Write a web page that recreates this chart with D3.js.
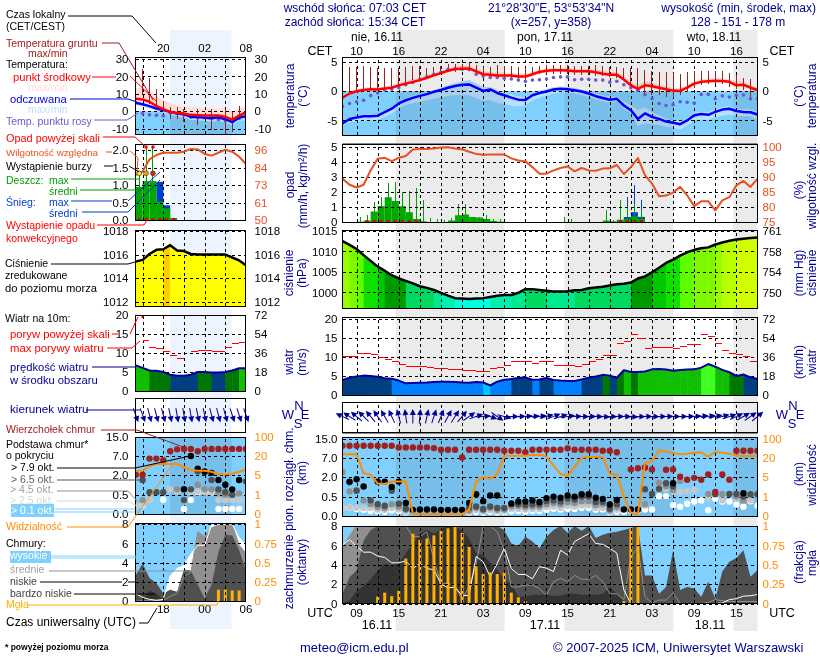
<!DOCTYPE html>
<html>
<head>
<meta charset="utf-8">
<script src="https://d3js.org/d3.v7.min.js"></script>
<style>
  html, body { margin: 0; background: #fff; }
  svg { display: block; }
  text { font-family: "Liberation Sans", Arial, sans-serif; }
</style>
</head>
<body>
<svg id="chart" width="820" height="660"></svg>
<script>
// --- main meteogram, one value per hour from 16.11 07 UTC (h=0) to 18.11 18 UTC (h=59)
const utcTicks = [2, 8, 14, 20, 26, 32, 38, 44, 50, 56];
const utcLabels = ['09', '15', '21', '03', '09', '15', '21', '03', '09', '15'];
const cetLabels = ['10', '16', '22', '04', '10', '16', '22', '04', '10', '16'];
const nightSpans = [[7.57, 23.05], [31.57, 47.05], [55.57, 59]];

const tempMid = [-1.1,-.4,0,.2,.35,.3,.45,.6,1,1.3,1.6,1.9,2.3,2.7,3.1,3.5,3.8,3.85,3.9,3.4,2.9,2.8,2.7,2.7,2.7,2.5,2.5,2.9,3.3,3.5,
  3.6,3.6,3.55,3.4,3.4,3.4,3.25,3,2.8,2.8,2,1,.4,1,.85,.6,.35,.1,.05,.6,1.3,1.6,1.7,1.8,1.75,1.6,1,1.1,.6,.2];
const tempMax = [-.8,-.1,.4,.6,.7,.7,.8,1,1.4,1.8,2.1,2.4,2.8,3.1,3.5,3.9,4.3,4.4,4.4,3.9,3.4,3.3,3.2,3.2,3.2,3,3,3.3,3.7,3.9,
  4,4,4,3.8,3.8,3.8,3.7,3.5,3.3,3.3,2.6,1.6,1,1.7,1.5,1.1,.8,.6,.5,1,1.7,2,2.2,2.3,2.2,2.1,1.7,1.6,1.1,.6];
const tempMin = [-1.3,-.6,-.2,0,.1,.1,.2,.4,.8,1.1,1.4,1.7,2.1,2.5,2.9,3.3,3.6,3.6,3.7,3.1,2.6,2.5,2.4,2.4,2.4,2.2,2.2,2.6,3,3.3,
  3.4,3.4,3.3,3.2,3.2,3.2,3,2.8,2.6,2.6,1.7,.7,.1,.7,.5,.3,.1,-.1,-.1,.4,1,1.3,1.5,1.6,1.5,1.4,.8,.8,.3,-.1];
const feelMid = [-5.5,-4.75,-4.5,-4.3,-4.3,-4.2,-3.6,-3,-2.1,-1.55,-1.15,-.8,-.5,-.1,.2,.6,.9,1.1,1.15,.6,.05,.3,-.3,-.7,-1.1,-1.45,-1.5,-.7,-.3,-.05,
  .3,.4,.35,.15,-.05,-.4,-.85,-1.15,-1.45,-1.3,-2.45,-3.25,-4.75,-3.8,-4.4,-4.75,-5.2,-5.4,-5.65,-5,-4.1,-3.9,-4.05,-3.55,-3.15,-3,-3.4,-3.55,-3.6,-4];
const feelMax = [-5.2,-4.4,-4.2,-4,-4,-3.9,-3.3,-2.7,-1.8,-1.2,-.8,-.5,-.2,.2,.6,1,1.4,1.7,1.9,1.4,.7,.7,.2,-.2,-.6,-.9,-1,-.3,.1,.4,
  .7,.8,.7,.5,.3,0,-.4,-.7,-1,-.9,-1.7,-2.4,-3.2,-2.8,-3.6,-4.1,-4.7,-5,-5.2,-4.6,-3.7,-3.5,-3.6,-3.1,-2.7,-2.6,-3,-3.1,-3.1,-3.5];
const feelMin = [-5.9,-5.3,-5.2,-5,-5,-4.9,-4.4,-3.8,-2.9,-2.4,-2.1,-1.8,-1.6,-1.3,-1.1,-.8,-.7,-.6,-.7,-1.2,-1.6,-1.5,-2,-2.2,-2.5,-2.6,-2.4,-1.6,-1.1,-.8,
  -.4,-.2,-.2,-.4,-.7,-1,-1.4,-1.7,-1.9,-1.8,-3,-3.8,-6,-5.5,-5.6,-5.8,-6.1,-6.2,-6.6,-5.9,-5,-4.9,-4.9,-4.4,-4.2,-4,-4.2,-4.3,-4.3,-4.9];
const dewPoint = [-2.6,-2.1,-1.8,-1.55,-.75,-.3,.2,.3,.6,1.1,1.5,2,2.45,2.9,3.25,3.75,3.8,3.75,3.7,2.9,2.6,2.35,2.35,2.2,2.1,1.9,1.7,1.9,1.95,2.1,
  2.35,2.45,2.45,1.95,2.05,2.05,1.9,1.9,1.55,1.7,1.1,.6,.15,-.6,-1.25,-2.1,-2.45,-2.3,-1.8,-1.9,-2.05,-.55,-.55,-1.3,-.8,-1,-.7,-.65,-1.3,-1.3];
const soilMax = [null,4.06,4.17,4.29,4.17,3.94,4,4,4,4.17,4.34,4.34,3.89,4.17,4.34,4.74,4.74,4.74,4.86,4.46,4.17,4.17,4.46,4.29,4.29,4.17,3.89,4.17,4.34,4.46,
  4.57,4.57,4.46,4.34,4.34,4.34,4.46,4.34,4.17,4.17,4,3.89,3.89,3.6,3.43,3.31,3.31,3.14,3.03,3.31,3.43,3.54,3.54,3.49,3.49,3.14,2.74,2.34,2.17,1.89];
const soilMin = [null,0,.17,.17,.29,.29,.46,.46,.86,1.31,1.89,1.89,2.46,2.74,3.03,3.31,3.31,3.6,3.43,2.74,2.34,2.34,2.17,2,1.89,1.6,1.89,2.74,2.91,3.03,
  3.03,2.91,2.91,2.74,2.74,2.74,2.57,2.57,2.46,2.34,1.89,1.03,.29,-.4,-.69,-.69,-.97,-.97,-.69,-.11,.63,1.03,1.2,1.31,1.31,.74,.46,.29,-1.26,-1.26];

const humidity = [89.4,87.4,86.5,87.4,92.2,96.1,96.4,95.3,96.4,97,99.2,99.3,99.3,99.5,99.8,99.9,99.5,99.2,98.4,97.7,97.4,97.5,97.5,97.5,96.2,95.5,95.2,93.3,91.1,91.1,
  92.2,93,93.5,91.9,93,92.2,92.1,92.8,92.9,94,91,93.3,96.3,90.6,87.8,83.6,83.8,84.8,86.7,83.9,80.3,81.9,81.9,78.9,82.2,83.3,87.2,88.7,86.7,89.4];
const rainMean = [0,0,.02,.1,.7,1.07,1.65,1.4,1.05,.65,.2,.05,0,0,0,.1,.45,.5,.33,.3,.2,.07,.02,0,0,0,0,0,0,0,
  0,0,0,0,0,0,0,.1,.04,.15,.2,.38,.2,0,0,0,0,0,0,0,0,0,0,0,0,0,0,0,0,0];
const rainMax = [0,0,.31,.49,1.35,1.68,2.58,2.65,2.02,2.09,2.24,1.46,.25,.2,.11,.29,1.23,1.19,.34,.34,.45,.22,.18,0,0,0,0,0,0,0,
  0,.34,.22,0,0,0,0,.83,.16,1.45,1.1,1.23,.8,0,0,0,0,0,0,0,0,0,0,0,0,0,0,0,0,0];
const snowMean = [0,0,0,0,0,0,0,0,0,0,0,0,0,0,0,0,0,0,0,0,0,0,0,0,0,0,0,0,0,0,
  0,0,0,0,0,0,0,0,0,0,.33,.65,.34,0,0,0,0,0,0,0,0,0,0,0,0,0,0,0,0,0];
const snowMax = [0,0,0,0,0,0,0,0,0,0,0,0,0,0,0,0,0,0,0,0,0,0,0,0,0,0,0,0,0,0,
  0,0,0,0,0,0,0,0,0,0,1.7,2.47,1.5,0,0,0,0,0,0,0,0,0,0,0,0,0,0,0,0,0];
const convectiveHours = [3, 4, 5, 6, 7, 8, 9, 10, 39, 40, 41, 42];

const pressure = [1012.55,1011.6,1010.6,1009.1,1007.7,1006.3,1005.3,1004.2,1003.4,1002.8,1002.2,1001.5,1001.1,1000.6,999.9,999.2,998.6,998.5,998.4,998.5,998.6,998.9,999.2,999.35,999.35,999.9,1000.8,1000.8,1000.6,1000.4,
  1000.2,1000.2,1000.3,1000.5,1000.6,1001,1001.2,1001.4,1001.7,1002,1002.1,1002.4,1003.4,1003.9,1004.9,1006,1007.2,1008,1009,1009.8,1010.4,1010.8,1011,1011.7,1012.2,1012.6,1012.9,1013.1,1013.3,1013.4];

const wind = [3.95,4.56,4.9,5.1,5,4.8,4.4,4.3,3.8,3.07,3.16,3.25,3.3,3.4,3.5,3.5,3.4,3.3,3.25,3.4,3.3,2.5,3.5,4,4.2,4.5,4.65,4,4.1,4.5,
  3.95,3.8,3.7,3.7,4.1,4.55,4.9,5.3,5.1,4.55,6.5,6.05,6.05,6.2,6.75,6.85,6.7,6.4,6.6,6.7,6.75,7.2,8.15,7.45,6.6,6,5,5.4,4.65,4.2];
const windClass = [2,2,2,2,2,2,2,1,1,1,1,1,1,1,1,1,1,1,1,1,0,1,1,1,2,2,2,1,2,2,
  1,1,1,1,2,2,2,3,2,3,4,3,4,4,4,4,4,4,4,4,4,5,5,4,4,3,3,2,2,2];
const gust = [10.1,10.1,11,11,10.7,10,9.4,8.7,8.1,7.5,7.5,7.45,7.3,7.1,7,6.8,6.75,6.5,6.5,6.1,6.1,6.9,7.3,7.8,8.9,8.9,8.9,8.4,8.9,8.9,
  7.7,7.7,7.7,7.5,8.1,8.9,9.4,10.4,10.4,13.6,14.1,15.8,14.9,12.3,12.5,12.5,12.5,12.3,12.8,13.4,13.4,15.8,15.4,13.6,11.75,11,10.7,10.1,8.7,null];
const windDir = [-65,-58,-50,-45,-40,-35,-30,-25,-15,-8,0,5,12,18,22,28,32,40,55,70,85,110,125,105,90,88,85,85,82,75,
  68,72,80,88,92,90,92,95,92,90,92,95,92,90,92,90,88,90,90,88,85,82,80,78,75,72,65,60,55,50];

const cloudTop = [12,12,12,12,12,12,12,12,11.3,11.3,11.3,11.3,11.3,11,10.3,10.3,10.3,7.1,10.3,10.3,10.3,10.3,10.3,9.9,9.9,9.9,9.3,10.3,10.3,10.3,
  10.3,10.3,10.9,10.3,10.3,10.3,10.3,9.9,9.9,9.3,null,4,4.3,4.5,4,null,3.9,4,2.1,1.8,1.95,1.8,2.7,.86,2.7,1.8,9.9,9.9,9.9,9.9];
const base79 = [null,1.66,1.84,1.28,null,1.66,1.66,1.25,1.66,.33,.15,.16,.16,.16,.15,.15,.15,.15,.33,.68,.38,.58,.58,null,.32,.37,.37,.4,.36,.46,
  .5,.47,.58,.5,.68,.68,.47,.44,.29,.41,.16,.16,.16,null,null,null,null,1.53,null,null,null,null,null,null,null,null,null,.76,null,null];
const base65 = [null,1.6,.95,null,.4,.3,.26,.95,.31,.18,null,null,null,null,null,null,null,null,.2,.24,.17,.24,.2,.2,.3,.3,.28,.3,.3,.38,
  .4,.37,.45,.42,.5,.5,.36,.36,.18,.3,null,null,null,1.07,.7,1.1,1.53,1.28,null,null,null,null,null,.68,null,.7,.7,.5,.68,.68];
const base45 = [3.3,.9,1,.4,.3,.22,.2,.3,.23,.15,null,null,null,null,null,null,null,null,.13,.2,.14,.2,.15,.16,.24,.25,.22,.24,.24,.3,
  .33,.3,.35,.33,.38,.38,.28,.3,.13,.22,null,null,null,.3,null,1.55,1.3,1,1.7,null,null,null,.7,null,.7,null,.5,.4,null,null];
const base25 = [.2,.22,.2,.2,.2,.16,.15,.2,.16,.1,null,null,null,null,null,null,null,null,.1,.14,.1,.14,.11,.11,.17,.17,.16,.17,.17,.22,
  .24,.2,.25,.24,.27,.27,.2,.2,.1,.15,null,null,null,.26,null,1.45,1.1,.9,.85,.9,1,null,.45,null,.4,null,.45,.4,.4,null];
const base01 = [.2,.21,.17,.15,.12,.11,.1,.13,.11,.08,null,null,null,null,null,null,null,null,.08,.09,.07,.1,.08,.08,.11,.12,.1,.12,.12,.15,
  .18,.16,.18,.17,.2,.2,.15,.16,.08,.1,.1,.13,.13,.16,.16,.53,.54,.28,.23,.31,.37,.4,.14,.44,.37,.37,.29,.23,.38,.26];
const visibility = [34,34,34,8,6.8,3.7,3.6,4.1,4.1,4.1,.12,.07,.07,.07,.07,.07,.07,.07,.3,4.1,5.2,4.7,7.3,28,28,28,28,32,31,25,
  13.9,7.5,6,13,20,23,23,23,7.5,7,1,.14,.07,16,17,52,45,41,34,36.5,41,43,24,45,41,36,30,27,27,27];

const cloudHigh = [6.05,6.6,5.9,5.3,5.3,4.9,4.75,4.2,4.2,4.4,3.6,4.15,3.6,3.5,2,1.6,1.7,.8,.85,4.85,4.3,2.75,4.15,5.7,3.6,3,3,2.55,3.8,3.65,
  3.3,5.5,5,6.4,6.8,7.2,6.2,6.1,5.7,5.2,1.4,0,0,0,0,0,0,0,0,0,0,0,0,0,.05,.4,.5,.76,.8,.93];
const cloudMid = [5.8,7,8,8,8,8,8,8,8,8,6.9,6.9,7.4,4.5,2,2.1,1.8,.4,1.8,4,8,8,7.4,5.5,1.7,1.7,1.9,1.9,1.55,.85,
  2.25,2.6,2.25,2.9,2.5,2.5,2.9,2.25,1,1,.4,4.8,5.8,.7,.05,.35,.35,1.1,0,0,0,0,.1,.4,.3,.2,.2,.2,.2,.2];
const cloudLow = [1,2.7,3.4,6.5,7.6,8,8,8,8,8,8,8,8,8,8,8,8,8,8,8,8,8,8,7.6,6.2,5.95,6.9,6.4,5.7,6.9,
  7.6,8,7.3,8,7.5,8,6.75,7.1,7.3,7.4,7.6,7.8,8,2.9,2.9,1,1.7,5.5,1.4,1.7,1.55,.7,2.25,.5,3.3,4.3,4.7,5.5,2.75,3.45];
const cloudVeryLow = [0,.3,1.3,1.8,2.5,3.4,4.1,3.9,4.2,5.2,6.2,7.2,7.6,7.2,7.7,8,8,7.5,6.7,5.2,5,4.2,3.5,2.4,2.1,.7,.7,.9,.9,.9,
  .8,.8,1,1,.9,.9,.9,1,1.7,1,.2,0,0,0,0,0,0,0,0,0,0,0,0,0,0,0,0,0,0,0];
const fog = [0,0,0,0,0,.09,.14,.095,.165,.58,.9,.82,.84,.88,.94,.97,.99,.91,.73,.48,.38,.4,.38,.4,.14,.08,.03,0,0,0,
  0,0,0,0,0,0,0,0,0,0,.03,.97,1,0,0,0,0,0,0,0,0,0,0,0,0,0,0,0,0,0];

// --- small sample meteogram on the left (the legend), hours 14 UTC .. 06 UTC
const lUtcTicks = [4, 10, 16];
const lUtcLabels = ['18', '00', '06'];
const lCetLabels = ['20', '02', '08'];
const lNight = [4.97, 13.9];
const lTempMid = [7.1,6.7,5.4,2.9,1.2,-.4,-1,-1.3,-2.1,-2.3,-2.5,-2.5,-2.5,-3.3,-4.8,-2.5,-.6];
const lTempMax = [13.6,13,11,9.2,6.3,4.4,3.5,2.5,2.1,2.1,1.5,1.5,1.5,1.5,-.4,1.5,2.9];
const lTempMin = [6.5,6,4.7,2.3,.6,-1,-1.5,-1.8,-2.6,-2.8,-3,-3,-3,-3.8,-5.3,-3,-1.1];
const lFeelMid = [4.8,4,2.9,1.5,.6,-.4,-1.3,-1.7,-3.3,-3.3,-3.7,-4,-3.5,-4.6,-6.3,-3.7,-2.9];
const lFeelMax = [5.5,4.8,3.6,2.2,1.2,.3,-.6,-1,-2.6,-2.6,-3,-3.3,-2.8,-3.9,-5.6,-3,-2.2];
const lFeelMin = [3.6,2.8,1.5,.2,-.8,-1.9,-2.8,-3.5,-5,-5.2,-5.6,-6,-5.5,-6.6,-8,-5.8,-5];
const lDew = [null,-1.3,-2.1,-2.3,-2.7,-1,-1.3,-2.1,-3.3,-3.9,-3.7,-4,-4.8,-5.6,-6,-4.2,null];
const lSoilMax = [null,24,19,13,6,2.5,2.5,1.5,null,1.5,null,1.5,null,1.5,-.4,2.9,null];
const lSoilMin = [null,10,4,2.5,0,-4.2,-4.2,-6.2,null,-8,null,-11,null,-13,-12,-5,null];
const lHumidity = [79.6,81.8,89.9,92.7,94.2,94.2,94.2,94.9,96.7,96.4,93.4,92.3,94.2,96.2,94.9,91.6,86.8];
const lRainMean = [.95,1.11,1.11,.52,.33,.06,0,0,0,0,0,0,0,0,0,0,0];
const lRainMax = [1.27,2.05,2.1,0,0,0,0,0,0,0,0,0,0,0,0,0,0];
const lSnowMean = [0,0,0,1.09,.42,0,0,0,0,0,0,0,0,0,0,0,0];
const lSnowMax = [0,0,0,0,0,0,0,0,0,0,0,0,0,0,0,0,0];
const lConvective = [0, 1, 2, 3, 4, 5];
const lThunder = [[0, '#ffee00'], [1, '#ffa500'], [2, '#ee2200']];
const lRainOver = [1, 2];
const lPressure = [1015.4,1015.55,1016.05,1016.4,1016.45,1016.8,1016.35,1016.3,1016.05,1016,1016,1016,1016,1016,1015.75,1015.5,1015.1];
const lWind = [6.75,6.1,5.4,5.3,5,4.3,4,4,4.3,5,5,4.9,4.9,5,5.4,6,6];
const lWindClass = [4,4,3,3,3,2,2,2,2,3,3,2,2,3,3,4,4];
const lGust = [null,13.2,11.5,11.2,10.3,9.4,8.6,null,10.3,10.6,10.6,10.3,10.3,11.5,12.5,12.8,null];
const lGustOver = [1];
const lWindDir = [160,160,165,165,165,168,170,170,170,168,168,165,165,165,162,162,160];
const lCloudTop = [2,2,6.3,6.3,5.9,9,9.8,10,10,9,10,10,10,10,10,10,10];
const lBase79 = [null,null,null,null,null,null,null,.91,7,3.6,2.85,2.5,1.6,1.25,.9,1.6,null];
const lBase65 = [null,1.6,.68,.68,.68,null,null,.36,.9,2.9,2.7,1.6,.9,.68,.5,null,1.5];
const lBase45 = [null,.36,null,null,null,null,.9,null,null,1.25,.9,.9,.68,.5,.5,.6,null];
const lBase25 = [.2,.25,.36,null,null,.9,.75,null,.7,.75,.68,.68,.36,.36,.36,.36,.36];
const lBase01 = [null,.23,.36,null,.37,null,null,.13,.36,.68,.68,.68,.13,.13,.13,.13,null];
const lVisibility = [8.2,8.2,12,13.6,13.6,13.6,13.6,10.9,8.75,8.2,8.2,7.4,5.3,5.3,5.8,7.4,9.3];
const lCloudHigh = [.8,.4,.2,.1,.2,2.6,3.4,3.7,4.9,5.8,5.8,7.9,8,8,8,6.6,5.8];
const lCloudMid = [0,.1,.1,.1,.1,.5,.8,2.6,3,7.2,6.7,7.6,7.9,8,8,5.8,5];
const lCloudLow = [2.7,3.9,2.4,1.9,.8,1.2,1,3.3,3.2,1.7,.3,1.7,5.1,6.9,6.8,5.3,3.2];
const lCloudVeryLow = [0,.2,1.1,.8,.1,0,0,0,0,0,0,0,0,0,0,0,0];
const lFog = [0,0,0,0,0,0,0,0,0,0,0,0,.15,.15,.14,.14,0];

// colours
const NAVY = '#000090', ORANGE = '#ff8c00', HUM = '#e85020', SKY = '#80d0ff';
const TICK = 11.5, LEGEND = 10.5;
const windColor = d3.scaleOrdinal([0,1,2,3,4,5], ['#00c8ff','#0080ff','#003f80','#007800','#10c000','#40ff20']);
const pressColor = d3.scaleThreshold(
  [998.9,999.6,1000.5,1002.6,1005,1007,1009,1010.5,1011.5,1012.4,1013,1014.5,1016.6],
  ['#00ffe0','#00f0b0','#00e890','#00d860','#009900','#00c800','#10e000','#60ff00','#80f800','#98ff00','#b8ff00','#d0ff00','#ffff00','#ffd000']);

const svg = d3.select('#chart');
svg.append('rect').attr('width', 820).attr('height', 660).attr('fill', '#fff');
const defs = svg.append('defs');
const gBack = svg.append('g');
const gFill = svg.append('g');
const gMul = svg.append('g').style('mix-blend-mode', 'multiply');
const gCloud = svg.append('g');
const gGrid = svg.append('g');
const gMark = svg.append('g');
const gTop = svg.append('g');

const num = v => v != null;

function yAxis(axisFn, y, ticks, x, color, fmt, pad) {
  const g = gTop.append('g').attr('transform', `translate(${x},0)`)
    .call(axisFn(y).tickValues(ticks).tickSize(0).tickPadding(pad).tickFormat(fmt || (d => d)));
  g.select('.domain').remove();
  g.attr('font-family', null).attr('font-size', TICK).attr('color', color || '#000');
}

function hGrid(layer, y, ticks, x0, x1) {
  const g = layer.append('g').attr('transform', `translate(${x0},0)`)
    .call(d3.axisLeft(y).tickValues(ticks).tickSize(-(x1 - x0)).tickFormat(''));
  g.select('.domain').remove();
  g.selectAll('line').attr('stroke', '#000').attr('stroke-dasharray', '3 3').attr('shape-rendering', 'crispEdges');
}

function vGrid(layer, x, ticks, top, bottom) {
  const g = layer.append('g').attr('transform', `translate(0,${bottom})`)
    .call(d3.axisBottom(x).tickValues(ticks).tickSize(-(bottom - top)).tickFormat(''));
  g.select('.domain').remove();
  g.selectAll('line').attr('stroke', '#000').attr('stroke-dasharray', '3 3').attr('shape-rendering', 'crispEdges');
}

function clipFor(id, x0, x1, top, bottom) {
  defs.append('clipPath').attr('id', id).append('rect')
    .attr('x', x0).attr('y', top).attr('width', x1 - x0).attr('height', bottom - top);
  return `url(#${id})`;
}

function drawLine(layer, x, y, values, color, width, clip) {
  layer.append('path')
    .attr('d', d3.line().defined(num).x((d, i) => x(i)).y(d => y(d))(values))
    .attr('fill', 'none').attr('stroke', color).attr('stroke-width', width)
    .attr('stroke-linejoin', 'round').attr('clip-path', clip);
}

function drawBand(layer, x, y, hi, lo, color, clip) {
  layer.append('path')
    .attr('d', d3.area().x((d, i) => x(i)).y0((d, i) => y(lo[i])).y1(d => y(d))(hi))
    .attr('fill', color).attr('clip-path', clip);
}

function drawDots(layer, x, y, values, color, r, clip) {
  layer.append('g').attr('clip-path', clip).selectAll('circle')
    .data(values.map((v, i) => [i, v]).filter(d => num(d[1]))).join('circle')
    .attr('cx', d => x(d[0])).attr('cy', d => y(d[1])).attr('r', r).attr('fill', color);
}

function drawSet(c) {
  const { x, x0, x1, hours, p, d, id } = c;
  const gx = c.gridHours;
  const clip = {};
  Object.keys(p).forEach(k => { clip[k] = clipFor(id + k, x0, x1, p[k][0], p[k][1]); });

  // temperature
  const yT = c.yTemp;
  gFill.append('rect').attr('x', x0).attr('width', x1 - x0)
    .attr('y', yT(0)).attr('height', p.temp[1] - yT(0)).attr('fill', SKY);
  if (c.darkenSpan) {
    gFill.append('rect').attr('x', x(c.darkenSpan[0])).attr('width', x(c.darkenSpan[1]) - x(c.darkenSpan[0]))
      .attr('y', yT(0)).attr('height', p.temp[1] - yT(0)).attr('fill', '#ebebeb').style('mix-blend-mode', 'multiply');
  }
  drawBand(gFill, x, yT, d.feelMax, d.feelMin, '#b9e0ff', clip.temp);
  drawBand(gFill, x, yT, d.tempMax, d.tempMin, '#ffdcd4', clip.temp);
  hGrid(gGrid, yT, c.tempTicks, x0, x1);
  vGrid(gGrid, x, gx, p.temp[0], p.temp[1]);
  gMark.append('g').attr('clip-path', clip.temp).selectAll('line')
    .data(hours.filter(i => num(d.soilMax[i]))).join('line')
    .attr('x1', i => x(i)).attr('x2', i => x(i))
    .attr('y1', i => yT(d.soilMax[i])).attr('y2', i => yT(d.soilMin[i]))
    .attr('stroke', '#a02020').attr('stroke-width', 1).attr('shape-rendering', 'crispEdges');
  drawDots(gMark, x, yT, d.dew, '#6a5acd', 1.8, clip.temp);
  drawLine(gMark, x, yT, d.feelMid, '#0000ff', 2.5, clip.temp);
  drawLine(gMark, x, yT, d.tempMid, '#ff0000', 2.5, clip.temp);

  // precipitation and humidity
  const yR = c.yRain, yH = c.yHum;
  hGrid(gGrid, yR, c.rainTicks, x0, x1);
  vGrid(gGrid, x, gx, p.precip[0], p.precip[1]);
  const bars = (values, color) => gCloud.append('g').attr('clip-path', clip.precip).selectAll('rect')
    .data(hours.filter(i => values[i] > 0)).join('rect')
    .attr('x', i => x(i)).attr('width', i => x(i + 1) - x(i))
    .attr('y', i => yR(values[i])).attr('height', i => yR(0) - yR(values[i])).attr('fill', color);
  const spikes = (values, color) => gCloud.append('g').selectAll('line')
    .data(hours.filter(i => values[i] > 0)).join('line')
    .attr('x1', i => x(i + .5)).attr('x2', i => x(i + .5))
    .attr('y1', i => yR(values[i])).attr('y2', yR(0)).attr('stroke', color).attr('stroke-width', 1)
    .attr('shape-rendering', 'crispEdges');
  spikes(d.snowMax, '#0040d0');
  bars(d.snowMean, '#0040d0');
  spikes(d.rainMax, '#00a000');
  bars(d.rainMean, '#00a800');
  gMark.append('g').selectAll('rect').data(d.convective).join('rect')
    .attr('x', i => x(i + .5) - 1.5).attr('y', yR(0) - 2).attr('width', 3).attr('height', 3).attr('fill', '#e00000');
  drawLine(gMark, x, yH, d.humidity, HUM, 2, clip.precip);

  // pressure: its palette is not dimmed by the night band
  const yP = c.yPress;
  const pClip = `${id}pa`;
  defs.append('clipPath').attr('id', pClip).append('path')
    .attr('d', d3.area().x((v, i) => x(i)).y0(p.press[1]).y1(v => yP(v))(d.pressure));
  gCloud.append('g').attr('clip-path', `url(#${pClip})`).selectAll('rect')
    .data(hours.slice(0, -1)).join('rect')
    .attr('x', i => x(i)).attr('width', i => x(i + 1) - x(i) + .5)
    .attr('y', p.press[0]).attr('height', p.press[1] - p.press[0])
    .attr('fill', i => pressColor((d.pressure[i] + d.pressure[i + 1]) / 2));
  hGrid(gGrid, yP, c.pressTicks, x0, x1);
  vGrid(gGrid, x, gx, p.press[0], p.press[1]);
  drawLine(gMark, x, yP, d.pressure, '#000', 2.5, clip.press);

  // wind: grid stays behind the coloured fill
  const yW = c.yWind;
  hGrid(gCloud, yW, c.windTicks, x0, x1);
  vGrid(gCloud, x, gx, p.wind[0], p.wind[1]);
  const wClip = `${id}wa`;
  defs.append('clipPath').attr('id', wClip).append('path')
    .attr('d', d3.area().x((v, i) => x(i)).y0(p.wind[1]).y1(v => yW(v))(d.wind));
  gCloud.append('g').attr('clip-path', `url(#${wClip})`).selectAll('rect')
    .data(hours.slice(0, -1)).join('rect')
    .attr('x', i => x(i)).attr('width', i => x(i + 1) - x(i) + .5)
    .attr('y', p.wind[0]).attr('height', p.wind[1] - p.wind[0])
    .attr('fill', i => windColor(d.windClass[i]));
  gMark.append('g').selectAll('line').data(hours.filter(i => num(d.gust[i]))).join('line')
    .attr('x1', i => x(i)).attr('x2', i => x(i + 1))
    .attr('y1', i => yW(d.gust[i])).attr('y2', i => yW(d.gust[i]))
    .attr('stroke', '#f00').attr('stroke-width', 1).attr('shape-rendering', 'crispEdges');
  drawLine(gMark, x, yW, d.wind, '#0000a0', 2, clip.wind);

  // wind direction arrows, centred on the hour
  vGrid(gGrid, x, gx, p.dir[0], p.dir[1]);
  const yMid = c.dirY;
  const arrows = gMark.append('g').selectAll('g').data(hours).join('g')
    .attr('transform', i => `translate(${x(i)},${yMid}) rotate(${d.windDir[i]})`);
  arrows.append('line').attr('y1', 7).attr('y2', -5).attr('stroke', '#000098').attr('stroke-width', 1);
  arrows.append('path').attr('d', 'M0,-7.5L3,-1.5L-3,-1.5Z').attr('fill', '#000098');

  // cloud base, top and visibility
  const yB = c.yBase, yV = c.yVis;
  gFill.append('rect').attr('x', x0).attr('width', x1 - x0).attr('y', p.base[0])
    .attr('height', p.base[1] - p.base[0]).attr('fill', SKY);
  if (c.darkenSpan) {
    gFill.append('rect').attr('x', x(c.darkenSpan[0])).attr('width', x(c.darkenSpan[1]) - x(c.darkenSpan[0]))
      .attr('y', p.base[0]).attr('height', p.base[1] - p.base[0]).attr('fill', '#ebebeb').style('mix-blend-mode', 'multiply');
  }
  hGrid(gGrid, yB, c.baseTicks, x0, x1);
  vGrid(gGrid, x, gx, p.base[0], p.base[1]);
  drawDots(gMark, x, yB, d.base01, '#fff', 3.2, clip.base);
  drawDots(gMark, x, yB, d.base25, '#c8c8c8', 3.2, clip.base);
  drawDots(gMark, x, yB, d.base45, '#909090', 3.2, clip.base);
  drawDots(gMark, x, yB, d.base65, '#505050', 3.2, clip.base);
  drawDots(gMark, x, yB, d.base79, '#000', 3.2, clip.base);
  drawDots(gMark, x, yB, d.cloudTop, '#a02020', 3.2, clip.base);
  drawLine(gMark, x, yV, d.visibility, ORANGE, 2, clip.base);

  // cloud cover layers
  const yC = c.yCloud, yF = c.yFog;
  gCloud.append('rect').attr('x', x0).attr('width', x1 - x0).attr('y', p.cloud[0])
    .attr('height', p.cloud[1] - p.cloud[0]).attr('fill', SKY);
  const layerArea = (values, color) => gCloud.append('path')
    .attr('d', d3.area().x((v, i) => x(i)).y0(p.cloud[1]).y1(v => yC(v))(values))
    .attr('fill', color).attr('clip-path', clip.cloud);
  layerArea(d.cloudHigh, '#fff');
  layerArea(d.cloudMid, '#909090');
  layerArea(d.cloudLow, '#505050');
  layerArea(d.cloudVeryLow, '#333');
  drawLine(gCloud, x, yC, d.cloudMid, '#909090', 1, clip.cloud);
  drawLine(gCloud, x, yC, d.cloudHigh, '#fff', 1, clip.cloud);
  gCloud.append('g').selectAll('rect').data(hours.filter(i => d.fog[i] > 0)).join('rect')
    .attr('x', i => x(i) - 1.5).attr('width', 3)
    .attr('y', i => yF(d.fog[i])).attr('height', i => p.cloud[1] - yF(d.fog[i])).attr('fill', '#ffb000');
  hGrid(gGrid, yC, c.cloudTicks, x0, x1);
  vGrid(gGrid, x, gx, p.cloud[0], p.cloud[1]);

  // frames
  Object.keys(p).forEach(k => {
    gTop.append('rect').attr('x', x0).attr('width', x1 - x0).attr('y', p[k][0]).attr('height', p[k][1] - p[k][0])
      .attr('fill', 'none').attr('stroke', '#000').attr('shape-rendering', 'crispEdges');
  });

  // tick labels on both sides
  const lp = c.padL, rp = c.padR;
  yAxis(d3.axisLeft, yT, c.tempTicks, x0, '#000', null, lp);
  yAxis(d3.axisRight, yT, c.tempTicks, x1, '#000', null, rp);
  yAxis(d3.axisLeft, yR, c.rainTicks, x0, '#000', c.rainFmt, lp);
  yAxis(d3.axisRight, yH, c.humTicks, x1, HUM, null, rp);
  yAxis(d3.axisLeft, yP, c.pressTicks, x0, '#000', null, lp);
  yAxis(d3.axisRight, yP, c.pressTicks, x1, '#000', c.pressRightFmt, rp);
  yAxis(d3.axisLeft, yW, c.windTicks, x0, '#000', null, lp);
  yAxis(d3.axisRight, yW, c.windTicks, x1, '#000', v => v * 3.6, rp);
  yAxis(d3.axisLeft, yB, c.baseTicks, x0, '#000', d3.format('.1f'), lp);
  yAxis(d3.axisRight, yV, c.visTicks, x1, ORANGE, null, rp);
  yAxis(d3.axisLeft, yC, c.cloudTicks, x0, '#000', null, lp);
  yAxis(d3.axisRight, yF, [1, .75, .5, .25, 0], x1, ORANGE, null, rp);
}

// main chart
const xMain = d3.scaleLinear([0, 59], [342.5, 757.5]);
nightSpans.forEach(s => {
  gMul.append('rect').attr('x', xMain(s[0])).attr('width', xMain(s[1]) - xMain(s[0]))
    .attr('y', 30).attr('height', 601).attr('fill', '#ebebeb');
});
drawSet({
  id: 'm', x: xMain, x0: 342.5, x1: 757.5, hours: d3.range(60), padL: 5, padR: 5, dirY: 416.5,
  gridHours: d3.range(2, 59, 3),
  p: { temp: [57, 135], precip: [144, 222], press: [230, 308], wind: [317, 395], dir: [402, 432], base: [437, 516], cloud: [526, 603] },
  yTemp: d3.scaleLinear([5, -5], [62, 120.4]), tempTicks: [5, 0, -5],
  yRain: d3.scaleLinear([5, 0], [147, 222]), rainTicks: [5, 4, 3, 2, 1, 0],
  yHum: d3.scaleLinear([100, 75], [147, 222]), humTicks: [100, 95, 90, 85, 80, 75],
  yPress: d3.scaleLinear([1015, 1000], [231, 292.4]), pressTicks: [1015, 1010, 1005, 1000],
  pressRightFmt: v => Math.round(v * .75006),
  yWind: d3.scaleLinear([20, 0], [319, 395]), windTicks: [20, 15, 10, 5, 0],
  yBase: d3.scaleLinear([15, 7, 2, .5, 0], [438.5, 457.7, 477.2, 496.6, 515.5]), baseTicks: [15, 7, 2, .5, 0],
  yVis: d3.scaleLinear([100, 20, 5, 1, 0], [438.5, 457.7, 477.2, 496.6, 515.5]), visTicks: [100, 20, 5, 1, 0],
  yCloud: d3.scaleLinear([8, 0], [526, 603.5]), cloudTicks: [8, 6, 4, 2, 0],
  yFog: d3.scaleLinear([1, 0], [526, 603.5]),
  d: { tempMid, tempMax, tempMin, feelMid, feelMax, feelMin, dew: dewPoint, soilMax, soilMin, humidity,
    rainMean, rainMax, snowMean, snowMax, convective: convectiveHours, pressure, wind, windClass, gust, windDir,
    cloudTop, base79, base65, base45, base25, base01, visibility, cloudHigh, cloudMid, cloudLow, cloudVeryLow, fog }
});

// grey shadow edges on the main panels
[[342.5, 143, 415], [342.5, 433, 415]].forEach(r => {
  gTop.append('rect').attr('x', r[0]).attr('y', r[1]).attr('width', r[2]).attr('height', 1).attr('fill', '#888');
});

// left sample chart
const xLeft = d3.scaleLinear([0, 16], [135.7, 246]);
gBack.append('rect').attr('x', xLeft(lNight[0])).attr('width', xLeft(lNight[1]) - xLeft(lNight[0]))
  .attr('y', 30).attr('height', 599).attr('fill', '#eef4ff');
drawSet({
  id: 'l', x: xLeft, x0: 135.5, x1: 245.5, hours: d3.range(17), padL: 7, padR: 9, dirY: 415,
  gridHours: [1, 4, 7, 10, 13], darkenSpan: lNight,
  p: { temp: [57, 134], precip: [144, 220], press: [230, 306], wind: [315, 391], dir: [398, 432], base: [437, 514], cloud: [523, 601] },
  yTemp: d3.scaleLinear([30, -10], [59, 128.6]), tempTicks: [30, 20, 10, 0, -10],
  yRain: d3.scaleLinear([2, 0], [150, 220]), rainTicks: [2, 1.5, 1, .5, 0], rainFmt: d3.format('.1f'),
  yHum: d3.scaleLinear([96, 50], [150, 220]), humTicks: [96, 84, 73, 61, 50],
  yPress: d3.scaleLinear([1018, 1012], [231, 301.7]), pressTicks: [1018, 1016, 1014, 1012],
  yWind: d3.scaleLinear([20, 0], [315, 391]), windTicks: [20, 15, 10, 5, 0],
  yBase: d3.scaleLinear([15, 7, 2, .5, 0], [437, 456, 474.7, 494.7, 514]), baseTicks: [15, 7, 2, .5, 0],
  yVis: d3.scaleLinear([100, 20, 5, 1, 0], [437, 456, 474.7, 494.7, 514]), visTicks: [100, 20, 5, 1, 0],
  yCloud: d3.scaleLinear([8, 0], [524, 601.3]), cloudTicks: [8, 6, 4, 2, 0],
  yFog: d3.scaleLinear([1, 0], [524, 601.3]),
  d: { tempMid: lTempMid, tempMax: lTempMax, tempMin: lTempMin, feelMid: lFeelMid, feelMax: lFeelMax, feelMin: lFeelMin,
    dew: lDew, soilMax: lSoilMax, soilMin: lSoilMin, humidity: lHumidity,
    rainMean: lRainMean, rainMax: lRainMax, snowMean: lSnowMean, snowMax: lSnowMax, convective: lConvective,
    pressure: lPressure, wind: lWind, windClass: lWindClass, gust: lGust, windDir: lWindDir,
    cloudTop: lCloudTop, base79: lBase79, base65: lBase65, base45: lBase45, base25: lBase25, base01: lBase01,
    visibility: lVisibility, cloudHigh: lCloudHigh, cloudMid: lCloudMid, cloudLow: lCloudLow, cloudVeryLow: lCloudVeryLow, fog: lFog }
});

// out-of-scale markers and thunder in the sample chart
gMark.append('g').selectAll('rect').data(lRainOver).join('rect')
  .attr('x', i => xLeft(i + .5) - 1.5).attr('y', 145.5).attr('width', 3).attr('height', 3).attr('fill', '#e00000');
gMark.append('g').selectAll('circle').data(lThunder).join('circle')
  .attr('cx', d => xLeft(d[0] + .5)).attr('cy', 173.3).attr('r', 2.4)
  .attr('fill', d => d[1]).attr('stroke', '#333').attr('stroke-width', .7);
gMark.append('g').selectAll('rect').data(lGustOver).join('rect')
  .attr('x', i => xLeft(i) - 1).attr('y', 316).attr('width', 2).attr('height', 2).attr('fill', '#e00000');

// time labels
const timeText = (labels, ticks, x, y) => gTop.append('g').selectAll('text').data(labels).join('text')
  .attr('x', (d, i) => x(ticks[i])).attr('y', y).attr('text-anchor', 'middle').attr('font-size', TICK).text(d => d);
timeText(cetLabels, utcTicks, xMain, 55);
timeText(utcLabels, utcTicks, xMain, 617);
timeText(lCetLabels, lUtcTicks, xLeft, 52);
timeText(lUtcLabels, lUtcTicks, xLeft, 613);

// free texts: [text, x, baseline, colour, size, anchor]
const freeTexts = [
  ['wschód słońca: 07:03 CET', 355, 12, NAVY, 12, 'middle'], ['zachód słońca: 15:34 CET', 355, 26, NAVY, 12, 'middle'],
  ['21°28\'30"E, 53°53\'34"N', 551, 12, NAVY, 12, 'middle'], ['(x=257, y=358)', 551, 26, NAVY, 12, 'middle'],
  ['wysokość (min, środek, max)', 816, 12, NAVY, 12, 'end'], ['128 - 151 - 178 m', 738, 26, NAVY, 12, 'middle'],
  ['nie, 16.11', 377, 41, '#000', 12, 'middle'], ['pon, 17.11', 545, 41, '#000', 12, 'middle'], ['wto, 18.11', 714, 41, '#000', 12, 'middle'],
  ['CET', 320, 55, '#000', 12.5, 'middle'], ['CET', 782, 55, '#000', 12.5, 'middle'],
  ['UTC', 320, 617, '#000', 12.5, 'middle'], ['UTC', 782, 617, '#000', 12.5, 'middle'],
  ['16.11', 377, 629, '#000', 12.5, 'middle'], ['17.11', 545, 629, '#000', 12.5, 'middle'], ['18.11', 710, 629, '#000', 12.5, 'middle'],
  ['Czas lokalny', 6, 18, '#000'], ['(CET/CEST)', 6, 30, '#000'],
  ['Temperatura gruntu', 6, 47, '#a02020'], ['max/min', 28, 57, '#a02020'],
  ['Temperatura:', 6, 68, '#000'], ['punkt środkowy', 13, 81, '#f00', 11.2], ['max/min', 28, 91, '#ffdcd4'],
  ['odczuwana', 10, 103, '#0000e0', 11.2], ['max/min', 28, 113, '#b9e0ff'], ['Temp. punktu rosy', 6, 125, '#6a5acd'],
  ['Opad powyżej skali', 6, 142, '#f00', 10.9], ['Wilgotność względna', 6, 156, HUM, 9.8], ['Wystąpienie burzy', 6, 170, '#000'],
  ['Deszcz:', 6, 184, '#00a000'], ['max', 49, 184, '#00a000'], ['średni', 49, 195, '#00a000'], ['Śnieg:', 6, 206, '#0040d0'], ['max', 49, 206, '#0040d0'], ['średni', 49, 217, '#0040d0'],
  ['Wystąpienie opadu', 6, 229, '#f00'], ['konwekcyjnego', 6, 242, '#f00'],
  ['Ciśnienie', 5, 267, '#000'], ['zredukowane', 5, 279, '#000'], ['do poziomu morza', 5, 292, '#000', 11.2],
  ['Wiatr na 10m:', 5, 322, '#000'], ['poryw powyżej skali', 10, 338, '#f00', 11.3], ['max porywy wiatru', 10, 352, '#f00', 11.3],
  ['prędkość wiatru', 10, 371, NAVY, 11.2], ['w środku obszaru', 10, 384, NAVY, 11.2], ['kierunek wiatru', 10, 413, NAVY, 11.7],
  ['Wierzchołek chmur', 6, 433, '#a02020'], ['Podstawa chmur*', 6, 448, '#000'], ['o pokryciu', 6, 459, '#000'],
  ['> 7.9 okt.', 11, 471, '#000'], ['> 6.5 okt.', 11, 483, '#606060'], ['> 4.5 okt.', 10, 493, '#a0a0a0'], ['> 2.5 okt.', 10, 504, '#d8d8d8'],
  ['Widzialność', 6, 530, ORANGE], ['Chmury:', 6, 547, '#000'], ['średnie', 10, 573, '#a0a0a0'], ['niskie', 10, 585, '#404040'],
  ['bardzo niskie', 10, 597, '#404040'], ['Mgła', 6, 608, '#ffb000'], ['Czas uniwersalny (UTC)', 6, 626, '#000', 12],
  ['meteo@icm.edu.pl', 300, 652, NAVY, 13], ['© 2007-2025 ICM, Uniwersytet Warszawski', 553, 652, NAVY, 13],
  ['W', 288, 419, NAVY, 13, 'middle'], ['N', 299, 410, NAVY, 13, 'middle'], ['E', 305, 419, NAVY, 13, 'middle'], ['S', 298, 428, NAVY, 13, 'middle'],
  ['W', 782, 419, NAVY, 13, 'middle'], ['N', 793, 410, NAVY, 13, 'middle'], ['E', 800, 419, NAVY, 13, 'middle'], ['S', 792, 428, NAVY, 13, 'middle']
];
// highlighted legend entries sit on a sky-blue patch
[[11, 504, 43, 13], [10, 551, 41, 12]].forEach(r => {
  gTop.append('rect').attr('x', r[0]).attr('y', r[1]).attr('width', r[2]).attr('height', r[3]).attr('fill', SKY);
});
freeTexts.push(['> 0.1 okt.', 11, 514, '#fff'], ['wysokie', 10, 559, '#fff']);
gTop.append('g').selectAll('text').data(freeTexts).join('text')
  .attr('x', d => d[1]).attr('y', d => d[2]).attr('fill', d => d[3])
  .attr('font-size', d => d[4] || LEGEND).attr('text-anchor', d => d[5] || 'start').text(d => d[0]);
gTop.append('text').attr('x', 5).attr('y', 650).attr('font-size', 8.5).attr('font-weight', 'bold').text('* powyżej poziomu morza');

// rotated axis titles: [text, baseline x, centre y]
const titles = [
  ['temperatura', 294, 96], ['(°C)', 307, 96], ['opad', 294, 185], ['(mm/h, kg/m²/h)', 307, 186],
  ['ciśnienie', 293, 273], ['(hPa)', 306, 273], ['wiatr', 293, 362], ['(m/s)', 306, 362],
  ['pion. rozciągł. chm.', 293, 479], ['(km)', 306, 473], ['zachmurzenie', 293, 572], ['(oktanty)', 306, 562],
  ['(°C)', 803, 96], ['temperatura', 816, 96], ['(%)', 803, 190], ['wilgotność wzgl.', 816, 186],
  ['(mm Hg)', 803, 273], ['ciśnienie', 816, 273], ['(km/h)', 803, 362], ['wiatr', 816, 362],
  ['(km)', 803, 474], ['widzialność', 816, 475], ['(frakcja)', 803, 562], ['mgła', 816, 563]
];
gTop.append('g').selectAll('text').data(titles).join('text')
  .attr('transform', d => `translate(${d[1]},${d[2]}) rotate(-90)`)
  .attr('text-anchor', 'middle').attr('font-size', 12).attr('fill', NAVY).text(d => d[0]);

// legend leader lines: [colour, points]
const leaders = [
  ['#000', [[68,16],[132,16],[156,43]]],
  ['#a02020', [[102,43],[119,43],[153,100]]],
  ['#f00', [[92,77],[116,77]]], ['#f00', [[130,76],[157,102]]],
  ['#0000e0', [[70,99],[128,99],[137,102]]],
  ['#6a5acd', [[94,120],[127,120],[138,113]]],
  ['#f00', [[103,137],[135,137],[146,147]]],
  [HUM, [[106,152],[112,152]]], [HUM, [[130,151],[138,158],[137,172]]],
  ['#000', [[104,166],[113,166]]], ['#000', [[129,166],[139,172]]],
  ['#00a000', [[71,179],[140,179]]], ['#00a000', [[80,190],[157,190]]],
  ['#0040d0', [[71,201],[112,201]]], ['#0040d0', [[128,201],[160,172]]],
  ['#0040d0', [[82,212],[128,212],[160,180]]],
  ['#f00', [[97,225],[144,225],[147,220]]],
  ['#000', [[51,264],[128,264],[135,262]]],
  ['#f00', [[112,334],[118,334]]], ['#f00', [[130,334],[138,317]]],
  ['#f00', [[107,348],[132,348],[140,341]]],
  [NAVY, [[92,367],[135,367]]],
  [NAVY, [[86,410],[140,410]]],
  ['#a02020', [[101,430],[137,430],[183,447]]],
  ['#000', [[57,468],[135,468],[190,456]]],
  ['#505050', [[57,480],[143,480]]],
  ['#909090', [[57,491],[128,491],[138,502]]],
  ['#d8d8d8', [[57,501],[128,501],[137,506]]],
  [SKY, [[54,509],[135,509]]], [SKY, [[54,512],[135,512]]],
  [ORANGE, [[67,527],[128,527],[172,465]]],
  [SKY, [[51,556],[186,556]]], [SKY, [[51,558],[186,558]]],
  ['#909090', [[49,571],[193,571]]],
  ['#000', [[40,582],[122,582]]], ['#000', [[128,582],[135,582]]],
  ['#000', [[74,594],[155,594]]],
  ['#ffb000', [[27,605],[217,605],[218,600]]],
  ['#000', [[139,623],[148,623],[157,608]]]
];
gTop.append('g').selectAll('path').data(leaders).join('path')
  .attr('d', d => d3.line()(d[1])).attr('fill', 'none').attr('stroke', d => d[0]).attr('stroke-width', 1);
</script>
</body>
</html>
